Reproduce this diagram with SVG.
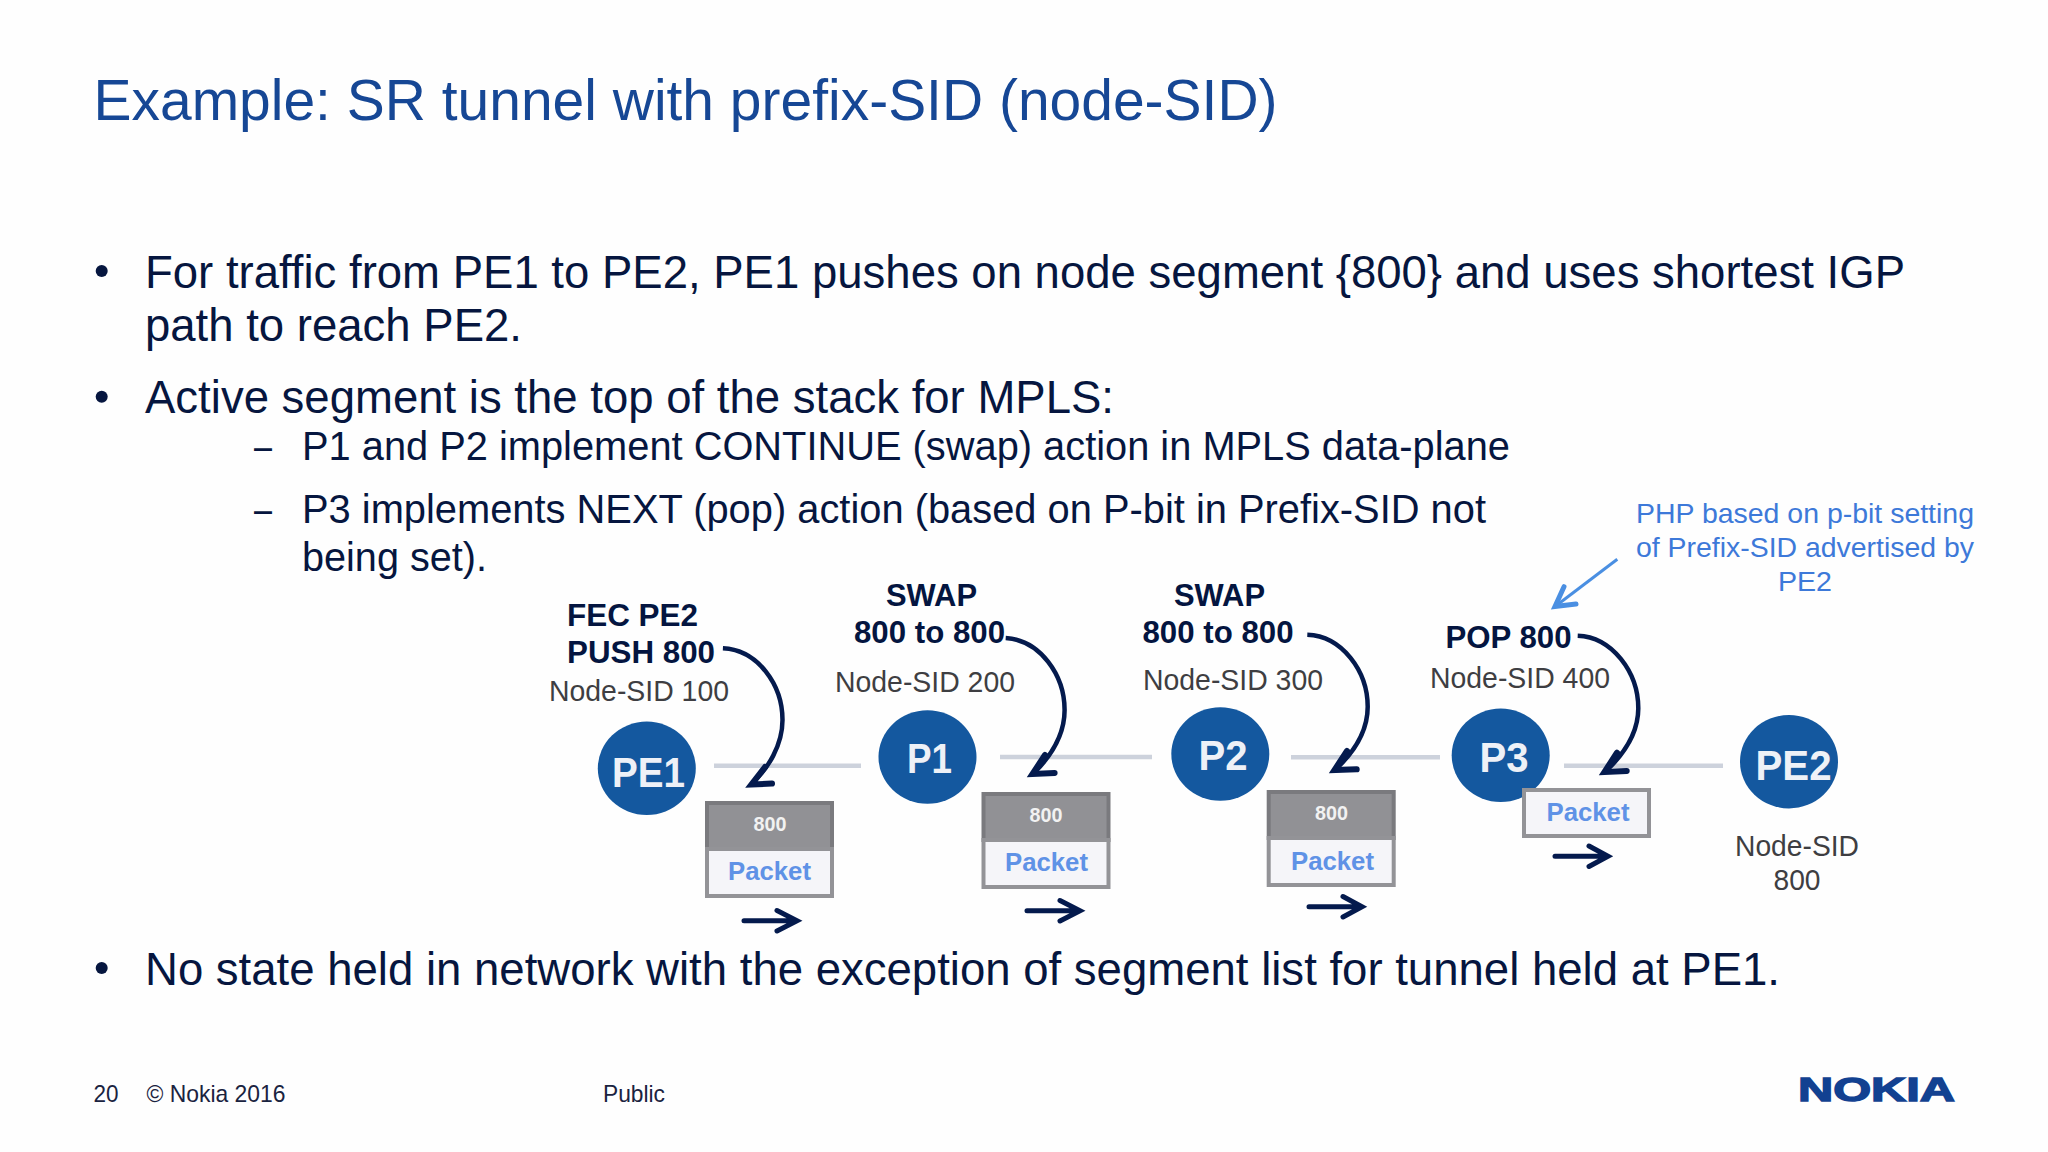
<svg xmlns="http://www.w3.org/2000/svg" width="2048" height="1152" viewBox="0 0 2048 1152">
<style>
text{font-family:"Liberation Sans",Arial,sans-serif}
.title{font-size:57.5px;fill:#164795}
.b1{font-size:46px;fill:#06163f}
.b2{font-size:41px;fill:#06163f}
.foot{font-size:24px;fill:#1a2340}
.act{font-size:32px;font-weight:bold;fill:#041540}
.sid{font-size:29.5px;fill:#3e3e42}
.node{font-size:42px;font-weight:bold;fill:#eef1f7}
.pkt{font-size:26.5px;font-weight:bold;fill:#5f92e6}
.lbl{font-size:21px;font-weight:bold;fill:#f2f2f2}
.note{font-size:27.5px;fill:#3d79d9}
.circ{fill:#14589f}
.link{stroke:#cdd2dc;stroke-width:4.5;fill:none}
.cur{stroke:#041a4d;stroke-width:4.5;fill:none;stroke-linecap:butt}
.head{stroke:#041a4d;stroke-width:6;fill:none;stroke-linecap:round;stroke-linejoin:miter}
.mv{stroke:#041a4d;stroke-width:5;fill:none;stroke-linecap:round;stroke-linejoin:miter}
.lg{fill:#919195;stroke:#7a7a7e;stroke-width:4}
.pb{fill:#f5f5f9;stroke:#939397;stroke-width:4}
.bul{fill:#06163f}
</style>
<rect width="2048" height="1152" fill="#fefefe"/>
<g id="title"><text class="title" x="93.5" y="120" textLength="1184" lengthAdjust="spacingAndGlyphs">Example: SR tunnel with prefix-SID (node-SID)</text></g>
<g id="body">
<circle class="bul" cx="101.7" cy="271" r="6"/>
<text class="b1" x="145" y="287.5" textLength="1760" lengthAdjust="spacingAndGlyphs">For traffic from PE1 to PE2, PE1 pushes on node segment {800} and uses shortest IGP</text>
<text class="b1" x="145" y="340.7" textLength="377" lengthAdjust="spacingAndGlyphs">path to reach PE2.</text>
<circle class="bul" cx="101.7" cy="396.7" r="6"/>
<text class="b1" x="145" y="413" textLength="969" lengthAdjust="spacingAndGlyphs">Active segment is the top of the stack for MPLS:</text>
<text class="b2" x="254" y="460" textLength="18" lengthAdjust="spacingAndGlyphs">–</text>
<text class="b2" x="302" y="460" textLength="1208" lengthAdjust="spacingAndGlyphs">P1 and P2 implement CONTINUE (swap) action in MPLS data-plane</text>
<text class="b2" x="254" y="523" textLength="18" lengthAdjust="spacingAndGlyphs">–</text>
<text class="b2" x="302" y="523" textLength="1184" lengthAdjust="spacingAndGlyphs">P3 implements NEXT (pop) action (based on P-bit in Prefix-SID not</text>
<text class="b2" x="302" y="570.7" textLength="185" lengthAdjust="spacingAndGlyphs">being set).</text>
<circle class="bul" cx="101.7" cy="968" r="6"/>
<text class="b1" x="145" y="985" textLength="1635" lengthAdjust="spacingAndGlyphs">No state held in network with the exception of segment list for tunnel held at PE1.</text>
</g>
<g id="connectors">
<path class="link" d="M714,765.7H861"/>
<path class="link" d="M1000,757H1152"/>
<path class="link" d="M1291,757.3H1440"/>
<path class="link" d="M1564,765.7H1723"/>
<path class="cur" d="M722.9,648.3C758,650 782.5,685 782.5,720C782.5,745 768,769 752,783"/>
<path class="head" d="M765,767L751.5,784.5L772,783.5"/>
<path class="cur" d="M1005.7,638C1040,640 1064.6,675 1064.6,710C1064.6,735 1050,757 1034,773"/>
<path class="head" d="M1045,755L1032.5,774L1054.6,773"/>
<path class="cur" d="M1307.3,634.7C1342,636 1367.7,671 1367.7,706.7C1367.7,732 1353,753 1336,769"/>
<path class="head" d="M1347,751L1334.5,770L1356.7,769.3"/>
<path class="cur" d="M1577.7,635.7C1612,637 1638.3,672 1638.3,708.3C1638.3,734 1623,755 1606,771"/>
<path class="head" d="M1617,752.7L1604.5,772L1626.7,771"/>
<path d="M1617.3,559.3L1557,605" fill="none" stroke="#4a8fe2" stroke-width="3"/>
<path d="M1564,586.7L1555,606.5L1576,604" fill="none" stroke="#4a8fe2" stroke-width="5" stroke-linecap="round"/>
<path class="mv" d="M744,920.7H796M777,910.5L797,920.7L777,931"/>
<path class="mv" d="M1027,910.7H1079M1060,900.5L1080,910.7L1060,921"/>
<path class="mv" d="M1309,906.7H1360M1343,896.5L1362,906.7L1343,917"/>
<path class="mv" d="M1555,856.3H1607M1589,846L1608,856.3L1589,866.5"/>
</g>
<g id="node-pe1">
<ellipse class="circ" cx="646.8" cy="768.3" rx="49" ry="46.7"/>
<text class="node" x="612" y="787" textLength="73" lengthAdjust="spacingAndGlyphs">PE1</text>
<text class="act" x="567" y="625.5" textLength="131" lengthAdjust="spacingAndGlyphs">FEC PE2</text>
<text class="act" x="567" y="662.5" textLength="148" lengthAdjust="spacingAndGlyphs">PUSH 800</text>
<text class="sid" x="549" y="700.7" textLength="180" lengthAdjust="spacingAndGlyphs">Node-SID 100</text>
</g>
<g id="node-p1">
<ellipse class="circ" cx="927.5" cy="757" rx="49" ry="46.7"/>
<text class="node" x="907" y="773" textLength="45" lengthAdjust="spacingAndGlyphs">P1</text>
<text class="act" x="886" y="606" textLength="91" lengthAdjust="spacingAndGlyphs">SWAP</text>
<text class="act" x="854" y="643" textLength="151" lengthAdjust="spacingAndGlyphs">800 to 800</text>
<text class="sid" x="835" y="691.7" textLength="180" lengthAdjust="spacingAndGlyphs">Node-SID 200</text>
</g>
<g id="node-p2">
<ellipse class="circ" cx="1220.3" cy="754" rx="49" ry="46.7"/>
<text class="node" x="1198.5" y="770" textLength="49" lengthAdjust="spacingAndGlyphs">P2</text>
<text class="act" x="1174" y="606" textLength="91" lengthAdjust="spacingAndGlyphs">SWAP</text>
<text class="act" x="1142.5" y="642.5" textLength="151" lengthAdjust="spacingAndGlyphs">800 to 800</text>
<text class="sid" x="1143" y="690" textLength="180" lengthAdjust="spacingAndGlyphs">Node-SID 300</text>
</g>
<g id="node-p3">
<ellipse class="circ" cx="1500.7" cy="755.3" rx="49" ry="46.7"/>
<text class="node" x="1479.5" y="771.5" textLength="49" lengthAdjust="spacingAndGlyphs">P3</text>
<text class="act" x="1445.5" y="648" textLength="126" lengthAdjust="spacingAndGlyphs">POP 800</text>
<text class="sid" x="1430" y="687.7" textLength="180" lengthAdjust="spacingAndGlyphs">Node-SID 400</text>
</g>
<g id="node-pe2">
<ellipse class="circ" cx="1789" cy="761.7" rx="49" ry="46.7"/>
<text class="node" x="1755.5" y="779.5" textLength="76" lengthAdjust="spacingAndGlyphs">PE2</text>
<text class="sid" x="1735" y="855.7" textLength="124" lengthAdjust="spacingAndGlyphs">Node-SID</text>
<text class="sid" x="1773.5" y="890" textLength="47" lengthAdjust="spacingAndGlyphs">800</text>
</g>
<g id="packet-1">
<rect class="lg" x="707" y="803" width="125" height="46"/>
<rect class="pb" x="707" y="849" width="125" height="47"/>
<text class="lbl" x="753.5" y="830.7" textLength="33" lengthAdjust="spacingAndGlyphs">800</text>
<text class="pkt" x="728" y="880" textLength="83" lengthAdjust="spacingAndGlyphs">Packet</text>
</g>
<g id="packet-2">
<rect class="lg" x="983.5" y="794" width="125" height="46"/>
<rect class="pb" x="983.5" y="840" width="125" height="47"/>
<text class="lbl" x="1029.5" y="821.7" textLength="33" lengthAdjust="spacingAndGlyphs">800</text>
<text class="pkt" x="1005" y="871" textLength="83" lengthAdjust="spacingAndGlyphs">Packet</text>
</g>
<g id="packet-3">
<rect class="lg" x="1268.7" y="792" width="125" height="46"/>
<rect class="pb" x="1268.7" y="838" width="125" height="47"/>
<text class="lbl" x="1315" y="820" textLength="33" lengthAdjust="spacingAndGlyphs">800</text>
<text class="pkt" x="1291" y="869.5" textLength="83" lengthAdjust="spacingAndGlyphs">Packet</text>
</g>
<g id="packet-4">
<rect class="pb" x="1524" y="790" width="125" height="46"/>
<text class="pkt" x="1546.5" y="820.5" textLength="83" lengthAdjust="spacingAndGlyphs">Packet</text>
</g>
<g id="note">
<text class="note" x="1636" y="522.7" textLength="338" lengthAdjust="spacingAndGlyphs">PHP based on p-bit setting</text>
<text class="note" x="1636" y="557.3" textLength="338" lengthAdjust="spacingAndGlyphs">of Prefix-SID advertised by</text>
<text class="note" x="1778" y="591" textLength="54" lengthAdjust="spacingAndGlyphs">PE2</text>
</g>
<g id="footer">
<text class="foot" x="93.5" y="1101.7" textLength="25" lengthAdjust="spacingAndGlyphs">20</text>
<text class="foot" x="146.5" y="1101.7" textLength="139" lengthAdjust="spacingAndGlyphs">© Nokia 2016</text>
<text class="foot" x="603" y="1101.7" textLength="62" lengthAdjust="spacingAndGlyphs">Public</text>
<text x="1798" y="1101" font-size="34" font-weight="bold" fill="#124191" stroke="#124191" stroke-width="1.4" textLength="157" lengthAdjust="spacingAndGlyphs">NOKIA</text>
</g>
</svg>
